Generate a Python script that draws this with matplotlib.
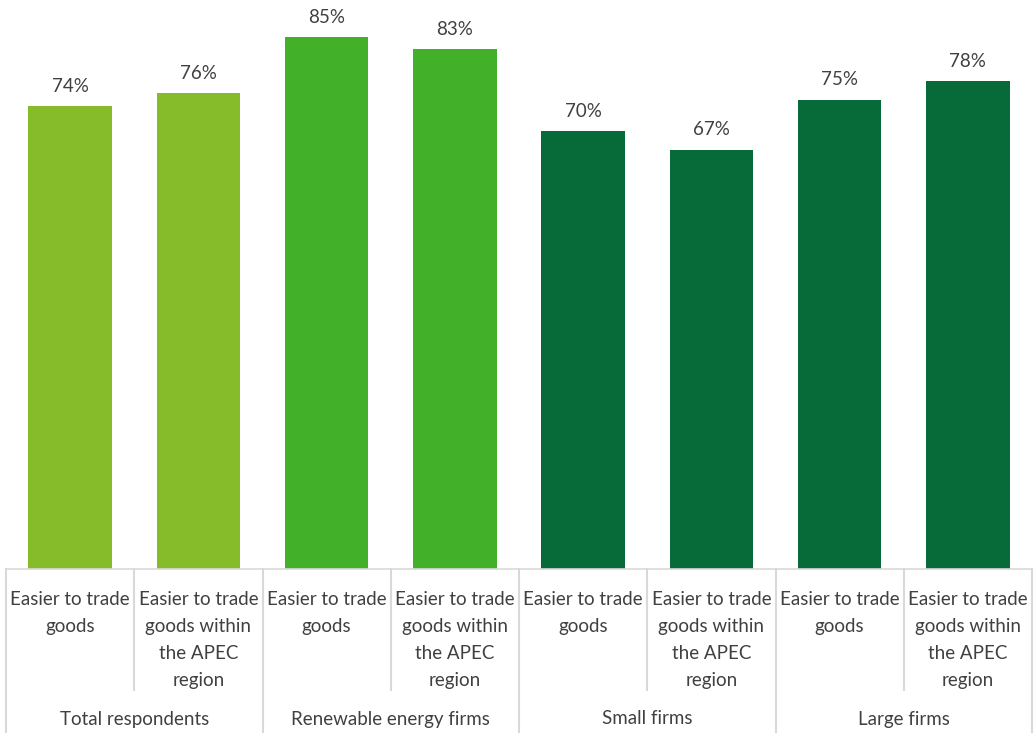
import matplotlib.pyplot as plt
from matplotlib.transforms import blended_transform_factory

plt.rcParams['font.family'] = ['Lato', 'DejaVu Sans']

# datos
grupos = ["Total respondents", "Renewable energy firms", "Small firms", "Large firms"]
categorias = ["Easier to trade\ngoods", "Easier to trade\ngoods within\nthe APEC\nregion"] * 4
valores = [74, 76, 85, 83, 70, 67, 75, 78]
colores_grupo = ["#86BC29", "#43B02A", "#066B38", "#066B38"]

texto = "#404040"
gris = "#D9D9D9"

fig = plt.figure(figsize=(10.34, 7.33), dpi=100)
ax = fig.add_axes([6 / 1034, 1 - 569 / 733, 1026 / 1034, 569 / 733])

x = list(range(len(valores)))
colores = [colores_grupo[i // 2] for i in x]
barras = ax.bar(x, valores, width=0.65, color=colores)

for b, v in zip(barras, valores):
    ax.annotate(f"{v}%", (b.get_x() + b.get_width() / 2, v), xytext=(0, 8),
                textcoords="offset points", ha="center", va="bottom",
                fontsize=13.5, color=texto)

ax.set_xlim(-0.5, len(valores) - 0.5)
ax.set_ylim(0, 90.9)
ax.set_xticks([])
ax.set_yticks([])
for s in ["top", "right", "left"]:
    ax.spines[s].set_visible(False)
ax.spines["bottom"].set_color(gris)
ax.spines["bottom"].set_linewidth(1.2)

# etiquetas de categoria y grupo
tr = blended_transform_factory(ax.transData, ax.transAxes)
for i, c in enumerate(categorias):
    ax.annotate(c, (i, 0), xycoords=tr, xytext=(0, -16), textcoords="offset points",
                ha="center", va="top", fontsize=13.5, color=texto, linespacing=1.7)
for g, nombre in enumerate(grupos):
    ax.annotate(nombre, (2 * g + 0.5, 0), xycoords=tr, xytext=(0, -108),
                textcoords="offset points", ha="center", va="center",
                fontsize=13.5, color=texto)

# lineas separadoras
h_cat = -(690 - 569) / 569
h_grp = -(733 - 569) / 569
for k in range(len(valores) + 1):
    pos = k - 0.5
    fondo = h_grp if k % 2 == 0 else h_cat
    ax.plot([pos, pos], [0, fondo], transform=tr, color=gris, lw=1.5, clip_on=False)

plt.savefig("out.png", dpi=100)
